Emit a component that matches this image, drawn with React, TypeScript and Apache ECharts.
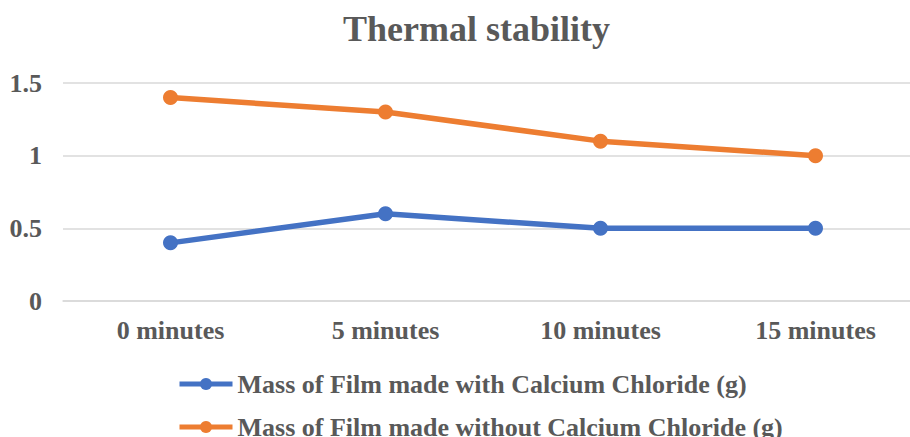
import React, { useEffect, useRef } from "react";
import * as echarts from "echarts";

const categories = ["0 minutes", "5 minutes", "10 minutes", "15 minutes"];
const withCaCl2 = [0.4, 0.6, 0.5, 0.5];
const withoutCaCl2 = [1.4, 1.3, 1.1, 1.0];
const seriesNames = [
  "Mass of Film made with Calcium Chloride (g)",
  "Mass of Film made without Calcium Chloride (g)",
];
const titleText = "Thermal stability";

const FONT = "Liberation Serif";
const TEXT = "#595959";

export default function App() {
  const ref = useRef<HTMLDivElement>(null);
  useEffect(() => {
    if (!ref.current) return;
    const chart = echarts.init(ref.current, undefined, { renderer: "svg" });
    const legendText = { fontFamily: FONT, fontSize: 26, fontWeight: "bold", color: TEXT };
    const legendBase = {
      left: 177,
      padding: 0,
      itemWidth: 53,
      itemHeight: 15,
      itemGap: 0,
      lineStyle: { width: 5 },
      textStyle: legendText,
    };
    chart.setOption({
      animation: false,
      backgroundColor: "#ffffff",
      title: {
        text: titleText,
        left: 338,
        top: 6,
        textStyle: { fontFamily: FONT, fontSize: 36, fontWeight: "bold", color: TEXT },
      },
      grid: { left: 63, top: 83, right: -13, height: 218, outerBoundsMode: "none", containLabel: false },
      legend: [
        { ...legendBase, top: 371, data: [seriesNames[0]] },
        { ...legendBase, top: 414, data: [seriesNames[1]] },
      ],
      xAxis: {
        type: "category",
        data: categories,
        boundaryGap: true,
        axisLine: { show: true, lineStyle: { color: "#D9D9D9", width: 1.5 } },
        axisTick: { show: false },
        axisLabel: { margin: 16, fontFamily: FONT, fontSize: 26, fontWeight: "bold", color: TEXT },
      },
      yAxis: {
        type: "value",
        min: 0,
        max: 1.5,
        interval: 0.5,
        axisLine: { show: false },
        axisTick: { show: false },
        splitLine: { lineStyle: { color: "#D9D9D9", width: 1.5 } },
        axisLabel: { margin: 21, fontFamily: FONT, fontSize: 26, fontWeight: "bold", color: TEXT },
      },
      series: [
        {
          name: seriesNames[0],
          type: "line",
          data: withCaCl2,
          symbol: "circle",
          symbolSize: 15,
          color: "#4472C4",
          lineStyle: { width: 5.5, color: "#4472C4" },
          itemStyle: { color: "#4472C4" },
        },
        {
          name: seriesNames[1],
          type: "line",
          data: withoutCaCl2,
          symbol: "circle",
          symbolSize: 15,
          color: "#ED7D31",
          lineStyle: { width: 5.5, color: "#ED7D31" },
          itemStyle: { color: "#ED7D31" },
        },
      ],
    });
    return () => chart.dispose();
  }, []);
  return (
    <div
      ref={ref}
      style={{ position: "fixed", left: 0, top: 0, width: 910, height: 437, background: "#fff" }}
    />
  );
}
